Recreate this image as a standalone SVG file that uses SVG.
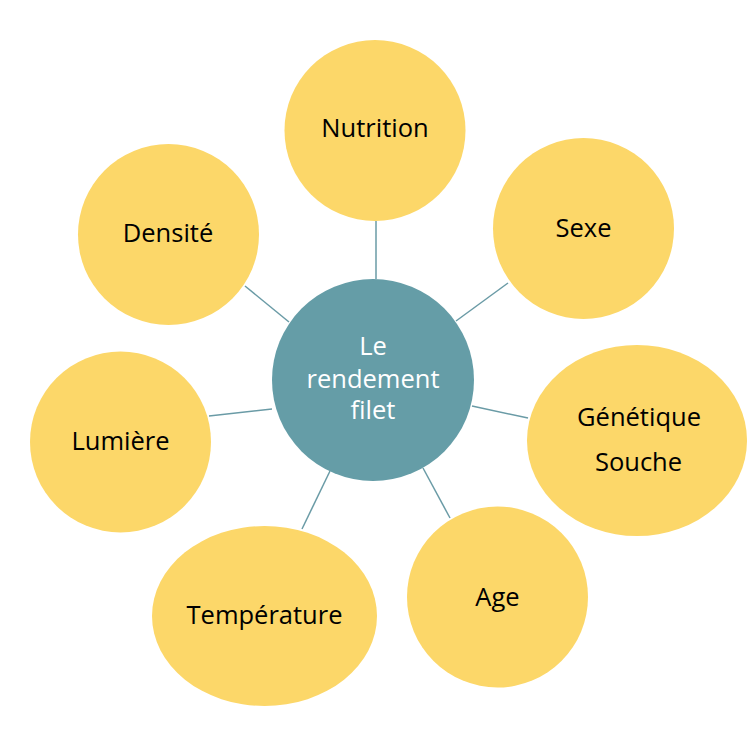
<svg xmlns="http://www.w3.org/2000/svg" width="756" height="755" viewBox="0 0 756 755">
<style>
.leaf{fill:#FCD769}
.hub{fill:#659DA7}
.lbl{font-family:"Open Sans","Noto Sans",sans-serif;font-size:25.5px;fill:#000;text-anchor:middle}
.hubt{font-family:"Open Sans","Noto Sans",sans-serif;font-size:25.5px;fill:#FFFFFF;text-anchor:middle}
.con line{stroke:#6A9BA6;stroke-width:1.5}
</style>
<rect width="756" height="755" fill="#FFFFFF"/>
<g id="connectors" class="con">
<line x1="376" y1="221" x2="376" y2="279"/>
<line x1="508" y1="283" x2="456" y2="321"/>
<line x1="472" y1="406" x2="528" y2="418"/>
<line x1="423" y1="468" x2="450" y2="518"/>
<line x1="330" y1="471" x2="302" y2="529"/>
<line x1="272" y1="409" x2="209" y2="416"/>
<line x1="289" y1="322" x2="245" y2="286"/>
</g>
<g id="hub">
<circle class="hub" cx="373" cy="380" r="101"/>
<text class="hubt" x="373" y="355">Le</text>
<text class="hubt" x="373" y="388">rendement</text>
<text class="hubt" x="373" y="419">filet</text>
</g>
<g id="nutrition">
<circle class="leaf" cx="375" cy="130.5" r="90.5"/>
<text class="lbl" x="375" y="137">Nutrition</text>
</g>
<g id="sexe">
<circle class="leaf" cx="583.5" cy="228.5" r="90.5"/>
<text class="lbl" x="583.5" y="237">Sexe</text>
</g>
<g id="genetique">
<ellipse class="leaf" cx="637" cy="440.5" rx="110" ry="95.5"/>
<text class="lbl" x="639" y="426">Génétique</text>
<text class="lbl" x="638.5" y="471">Souche</text>
</g>
<g id="age">
<circle class="leaf" cx="497.5" cy="597" r="90.5"/>
<text class="lbl" x="497.5" y="606">Age</text>
</g>
<g id="temperature">
<ellipse class="leaf" cx="264.5" cy="616" rx="112.5" ry="90"/>
<text class="lbl" x="264.5" y="624">Température</text>
</g>
<g id="lumiere">
<circle class="leaf" cx="120.5" cy="442" r="90.5"/>
<text class="lbl" x="120.5" y="450">Lumière</text>
</g>
<g id="densite">
<circle class="leaf" cx="168.5" cy="234.5" r="90.5"/>
<text class="lbl" x="168" y="242">Densité</text>
</g>
</svg>
